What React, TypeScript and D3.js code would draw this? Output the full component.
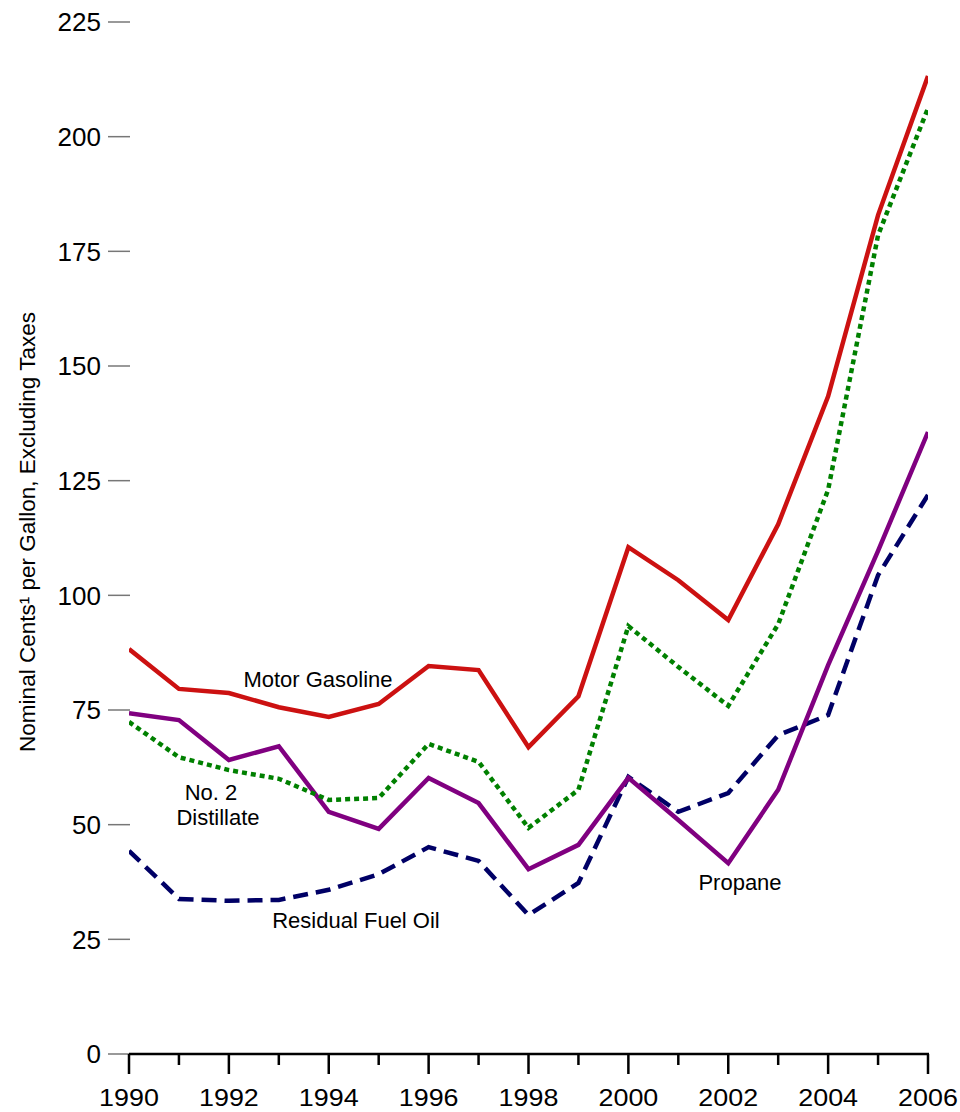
import React from "react";
import * as d3 from "d3";

const years = [1990,1991,1992,1993,1994,1995,1996,1997,1998,1999,2000,2001,2002,2003,2004,2005,2006];
const motorGasoline = [88.3,79.6,78.7,75.6,73.5,76.3,84.6,83.7,66.9,78.0,110.5,103.3,94.6,115.5,143.4,182.9,213.2];
const distillate = [72.4,64.7,61.9,60.0,55.4,55.8,67.6,63.7,49.3,57.6,93.3,84.4,75.9,93.7,123.0,178.5,206.2];
const propane = [74.3,72.8,64.1,67.1,52.8,49.1,60.2,54.7,40.3,45.6,60.2,51.0,41.6,57.6,84.8,109.7,135.6];
const residual = [44.3,33.8,33.4,33.6,35.8,39.2,45.1,42.1,30.3,37.3,60.4,52.8,56.9,69.5,73.9,104.4,121.9];
const yTicks = [0,25,50,75,100,125,150,175,200,225];
const xLabelYears = [1990,1992,1994,1996,1998,2000,2002,2004,2006];

const series = [
  { name: "Residual Fuel Oil", values: residual, color: "#000066", dash: "15,8" },
  { name: "Propane", values: propane, color: "#800080", dash: null },
  { name: "No. 2 Distillate", values: distillate, color: "#008000", dash: "5,4" },
  { name: "Motor Gasoline", values: motorGasoline, color: "#cc1111", dash: null },
];

export default function App() {
  const W = 960, H = 1112;
  const x = d3.scaleLinear().domain([1990, 2006]).range([129, 928]);
  const y = d3.scaleLinear().domain([0, 225]).range([1054, 22]);
  const line = d3.line<number>().x((_, i) => x(years[i])).y((d) => y(d));
  const font = "'Liberation Sans', Arial, sans-serif";
  return (
    <svg width={W} height={H} style={{ position: "absolute", left: 0, top: 0 }} fontFamily={font}>
      <defs>
        <clipPath id="plot"><rect x={129} y={0} width={799} height={1060} /></clipPath>
      </defs>
      {yTicks.map((t) => (
        <g key={t}>
          <line x1={108} x2={130} y1={y(t)} y2={y(t)} stroke="#777" strokeWidth={1.5} />
          <text x={101} y={y(t)} dy="0.36em" textAnchor="end" fontSize={26} fill="#000">{t}</text>
        </g>
      ))}
      <line x1={129} x2={929} y1={y(0)} y2={y(0)} stroke="#000" strokeWidth={2.5} />
      {years.map((yr) => (
        <line key={yr} x1={x(yr)} x2={x(yr)} y1={y(0)} y2={y(0) + (yr % 2 === 0 ? 20 : 11)} stroke="#000" strokeWidth={2.5} />
      ))}
      {xLabelYears.map((yr) => (
        <text key={yr} transform={`translate(${x(yr)},1106) scale(1.12,1)`} textAnchor="middle" fontSize={24} fill="#000">{yr}</text>
      ))}
      <g clipPath="url(#plot)">
        {series.map((s) => (
          <path key={s.name} d={line(s.values) || ""} fill="none" stroke={s.color} strokeWidth={4.5}
            strokeDasharray={s.dash || undefined} strokeLinejoin="miter" />
        ))}
      </g>
      <text x={318} y={687} textAnchor="middle" fontSize={22}>Motor Gasoline</text>
      <text x={211} y={800} textAnchor="middle" fontSize={22}>No. 2</text>
      <text x={218} y={825} textAnchor="middle" fontSize={22}>Distillate</text>
      <text x={356} y={928} textAnchor="middle" fontSize={22}>Residual Fuel Oil</text>
      <text x={740} y={890} textAnchor="middle" fontSize={22}>Propane</text>
      <text transform="translate(35,532) rotate(-90)" textAnchor="middle" fontSize={22.5}>
        Nominal Cents¹ per Gallon, Excluding Taxes
      </text>
    </svg>
  );
}
